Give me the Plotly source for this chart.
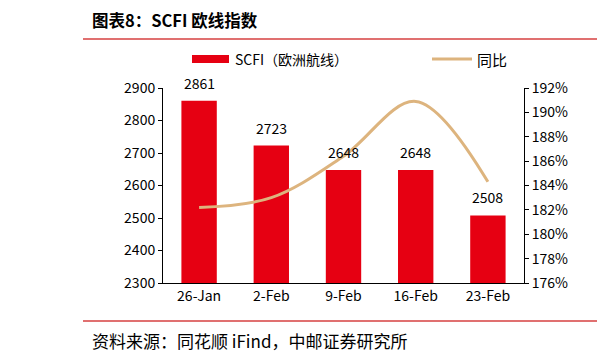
import plotly.graph_objects as go

categories = ["26-Jan", "2-Feb", "9-Feb", "16-Feb", "23-Feb"]
scfi_values = [2861, 2723, 2648, 2648, 2508]
yoy_values = [182.2, 183.0, 186.4, 190.9, 184.3]
left_ticks = [2300, 2400, 2500, 2600, 2700, 2800, 2900]
right_ticks = [176, 178, 180, 182, 184, 186, 188, 190, 192]
right_tick_labels = [f"{v}%" for v in right_ticks]

OFF = 8  # page body margin
W, H = 605 - OFF, 360 - OFF
L, R, T, B = 163 - OFF, 524 - OFF, 88 - OFF, 283 - OFF
FONT = "Noto Sans CJK SC"
RED = "#E60012"
TAN = "#DDB47E"

def px(x):
    return (x - OFF - L) / (R - L)

def py(y):
    return (B - (y - OFF)) / (B - T)

fig = go.Figure()
fig.add_trace(go.Bar(
    x=categories, y=scfi_values, name="SCFI（欧洲航线）",
    marker=dict(color=RED, line=dict(width=0)), width=0.49,
    cliponaxis=False, showlegend=False,
))
fig.add_trace(go.Scatter(
    x=categories, y=yoy_values, name="同比", yaxis="y2", mode="lines",
    line=dict(color=TAN, width=3, shape="spline", smoothing=1.0),
    showlegend=False,
))

shapes = [
    dict(type="line", xref="paper", yref="paper", x0=px(83), x1=px(605), y0=py(39), y1=py(39),
         line=dict(color="#E07070", width=2)),
    dict(type="line", xref="paper", yref="paper", x0=px(83), x1=px(605), y0=py(321), y1=py(321),
         line=dict(color="#E07070", width=2)),
    dict(type="rect", xref="paper", yref="paper", x0=px(192), x1=px(229), y0=py(63), y1=py(55),
         fillcolor=RED, line=dict(width=0)),
    dict(type="line", xref="paper", yref="paper", x0=px(432), x1=px(472), y0=py(59), y1=py(59),
         line=dict(color=TAN, width=3)),
]
annotations = [
    dict(text="<b>图表8：SCFI 欧线指数</b>", xref="paper", yref="paper", x=px(90), y=py(20),
         xanchor="left", yanchor="middle", showarrow=False,
         font=dict(family=FONT, size=16.5, color="#000000")),
    dict(text="资料来源：同花顺 iFind，中邮证券研究所", xref="paper", yref="paper", x=px(90), y=py(340),
         xanchor="left", yanchor="middle", showarrow=False,
         font=dict(family=FONT, size=17, color="#000000")),
    dict(text="SCFI（欧洲航线）", xref="paper", yref="paper", x=px(233), y=py(59),
         xanchor="left", yanchor="middle", showarrow=False,
         font=dict(family=FONT, size=14, color="#000000")),
    dict(text="同比", xref="paper", yref="paper", x=px(475), y=py(59),
         xanchor="left", yanchor="middle", showarrow=False,
         font=dict(family=FONT, size=15, color="#000000")),
]
for c, v in zip(categories, scfi_values):
    annotations.append(dict(
        text=str(v), x=c, y=v, xref="x", yref="y", xanchor="center", yanchor="bottom",
        yshift=6, showarrow=False, font=dict(family=FONT, size=14, color="#000000"),
    ))

fig.update_layout(
    width=W, height=H,
    margin=dict(l=L, r=W - R, t=T, b=H - B, pad=0),
    paper_bgcolor="white", plot_bgcolor="white",
    font=dict(family=FONT, size=14, color="#000000"),
    bargap=0.5,
    xaxis=dict(showgrid=False, showline=True, linecolor="#000000", linewidth=1,
               ticks="", tickfont=dict(family=FONT, size=14), fixedrange=True),
    yaxis=dict(range=[2300, 2900], tickvals=left_ticks, showgrid=False, zeroline=False,
               showline=True, linecolor="#000000", linewidth=1, ticks="outside",
               ticklen=4, tickcolor="#000000", tickfont=dict(family=FONT, size=14)),
    yaxis2=dict(range=[176, 192], tickvals=right_ticks, ticktext=right_tick_labels,
                overlaying="y", side="right", showgrid=False, zeroline=False, showline=True,
                linecolor="#000000", linewidth=1, ticks="outside", ticklen=4,
                tickcolor="#000000", tickfont=dict(family=FONT, size=14)),
    shapes=shapes, annotations=annotations,
)

fig.write_html("out.html")
